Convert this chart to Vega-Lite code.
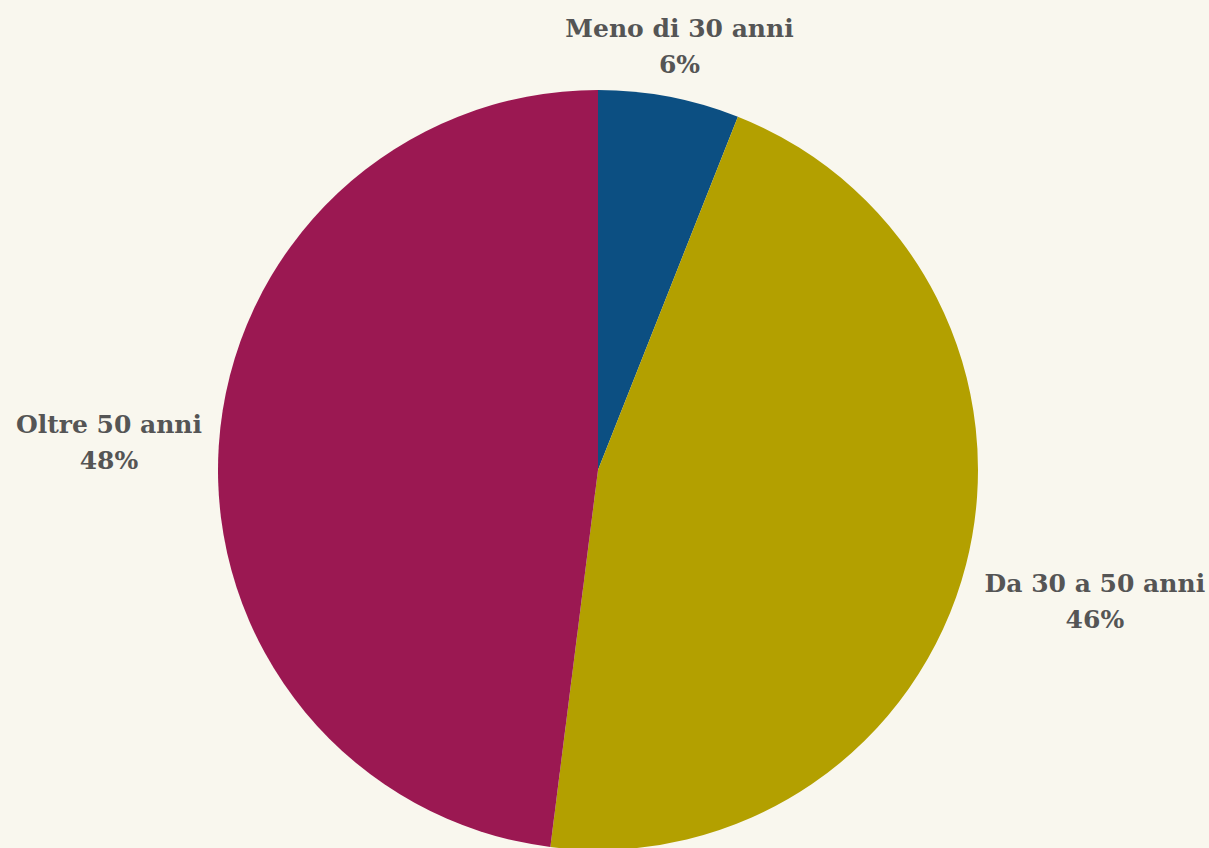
{
  "$schema": "https://vega.github.io/schema/vega-lite/v6.json",
  "width": 1196,
  "height": 756,
  "autosize": {"type": "none"},
  "padding": {"left": 0, "top": 92, "right": 13, "bottom": 0},
  "background": "#f9f7ee",
  "view": {"stroke": null},
  "data": {
    "values": [
      {"cat": "Meno di 30 anni", "value": 6, "ord": 1, "label": "Meno di 30 anni\n6%"},
      {"cat": "Da 30 a 50 anni", "value": 46, "ord": 2, "label": "Da 30 a 50 anni\n46%"},
      {"cat": "Oltre 50 anni", "value": 48, "ord": 3, "label": "Oltre 50 anni\n48%"}
    ]
  },
  "encoding": {
    "theta": {"field": "value", "type": "quantitative", "stack": true},
    "order": {"field": "ord", "type": "quantitative"},
    "color": {
      "field": "cat",
      "type": "nominal",
      "scale": {
        "domain": ["Meno di 30 anni", "Da 30 a 50 anni", "Oltre 50 anni"],
        "range": ["#0c4f82", "#b3a000", "#9b1852"]
      },
      "legend": null
    }
  },
  "layer": [
    {"mark": {"type": "arc", "outerRadius": 380}},
    {
      "mark": {
        "type": "text",
        "radius": {"expr": "datum.cat == 'Meno di 30 anni' ? 435 : datum.cat == 'Oltre 50 anni' ? 490 : 513"},
        "dy": -14,
        "font": "DejaVu Serif",
        "fontWeight": "bold",
        "fontSize": 25,
        "lineHeight": 36,
        "lineBreak": "\n",
        "align": "center",
        "baseline": "middle"
      },
      "encoding": {
        "text": {"field": "label"},
        "color": {"value": "#555555"}
      }
    }
  ]
}
